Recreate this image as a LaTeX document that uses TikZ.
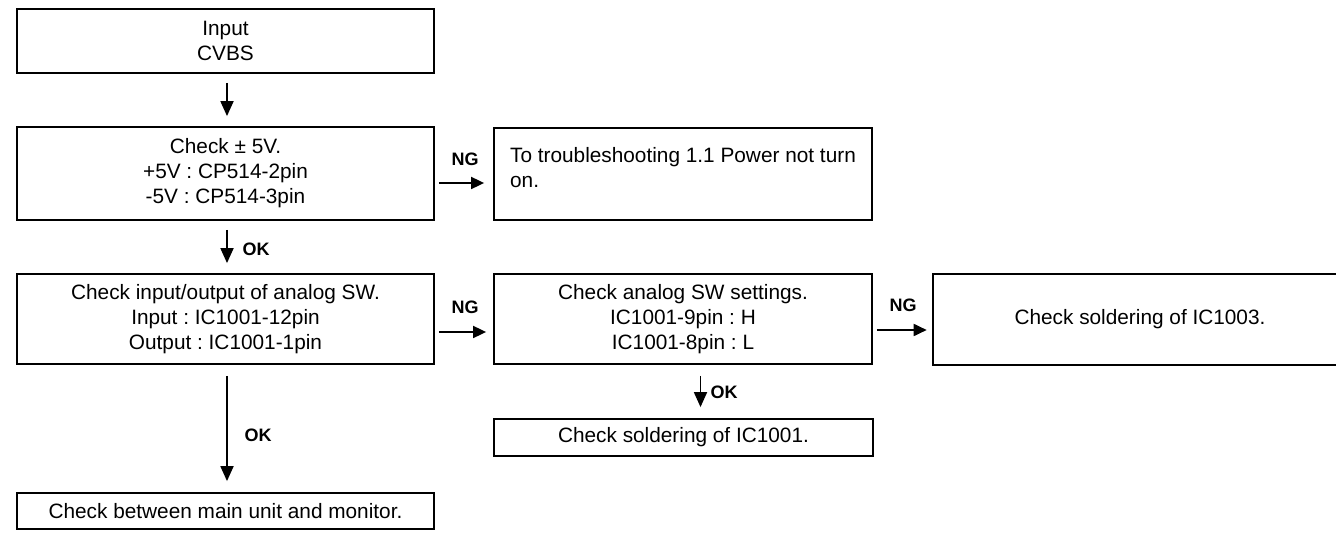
\documentclass[tikz,border=0pt]{standalone}
\usepackage{fontspec}
\setmainfont{Liberation Sans}
\usetikzlibrary{arrows.meta}
\frenchspacing
\begin{document}
\frenchspacing
\begin{tikzpicture}[x=1pt,y=-1pt,
  box/.style={draw, line width=1.8pt, inner sep=0pt, align=center,
    font=\fontsize{20.8}{25}\selectfont\frenchspacing},
  arr/.style={line width=1.8pt, -{Triangle[length=15pt,width=13pt]}},
  harr/.style={line width=1.8pt, -{Triangle[length=13pt,width=12pt]}},
  lbl/.style={font=\fontsize{18}{20}\selectfont\bfseries, inner sep=0pt}]
\useasboundingbox (0,0) rectangle (1336,534);
\fill[white] (0,0) rectangle (1336,534);

\node[box, minimum width=417pt, minimum height=64pt] (b1) at (225.5,41) {Input\\CVBS};
\node[box, minimum width=417pt, minimum height=93pt] (b2) at (225.5,173.5)
  {Check ± 5V.\\+5V : CP514-2pin\\-5V : CP514-3pin};
\node[box, minimum width=378pt, minimum height=92pt, align=left] (b3) at (683,174)
  {To troubleshooting 1.1 Power not turn\\on.\rule[-14pt]{0pt}{14pt}};
\node[box, minimum width=417pt, minimum height=90pt] (b4) at (225.5,319)
  {Check input/output of analog SW.\\Input : IC1001-12pin\\Output : IC1001-1pin};
\node[box, minimum width=378pt, minimum height=90pt] (b5) at (683,319)
  {Check analog SW settings.\\IC1001-9pin : H\\IC1001-8pin : L};
\node[box, line width=2.6pt, minimum width=414pt, minimum height=91pt] (b6) at (1140,319.5)
  {Check soldering of IC1003.};
\node[box, minimum width=379pt, minimum height=37pt] (b7) at (683.5,437.5)
  {Check soldering of IC1001.};
\node[box, minimum width=417pt, minimum height=36pt] (b8) at (225.5,511)
  {Check between main unit and monitor.};

% connectors
\draw[arr, shorten <=9pt, shorten >=10pt] ([xshift=1.5pt]b1.south) -- ([xshift=1.5pt]b2.north);
\draw[harr, shorten <=4pt, shorten >=9pt] ([yshift=-9.5pt]b2.east) -- ([yshift=-9pt]b3.west);
\node[lbl] (ng1) at (465,159.5) {NG};
\draw[arr, shorten <=9pt, shorten >=10pt] ([xshift=1.5pt]b2.south) -- ([xshift=1.5pt]b4.north);
\node[lbl] (ok1) at (256,249.5) {OK};
\draw[harr, shorten <=4pt, shorten >=7pt] ([yshift=-13pt]b4.east) -- ([yshift=-13pt]b5.west);
\node[lbl] (ng2) at (465,307) {NG};
\draw[harr, shorten <=4pt, shorten >=5pt] ([yshift=-11pt]b5.east) -- ([yshift=-10.5pt]b6.west);
\node[lbl] (ng3) at (903,305.5) {NG};
\draw[arr, shorten <=11pt, shorten >=11pt] ([xshift=17.5pt]b5.south) -- ([xshift=17pt]b7.north);
\node[lbl] (ok2) at (724,392) {OK};
\draw[arr, shorten <=11pt, shorten >=11pt] ([xshift=1.5pt]b4.south) -- ([xshift=1.5pt]b8.north);
\node[lbl] (ok3) at (258,435) {OK};
\end{tikzpicture}
\end{document}
